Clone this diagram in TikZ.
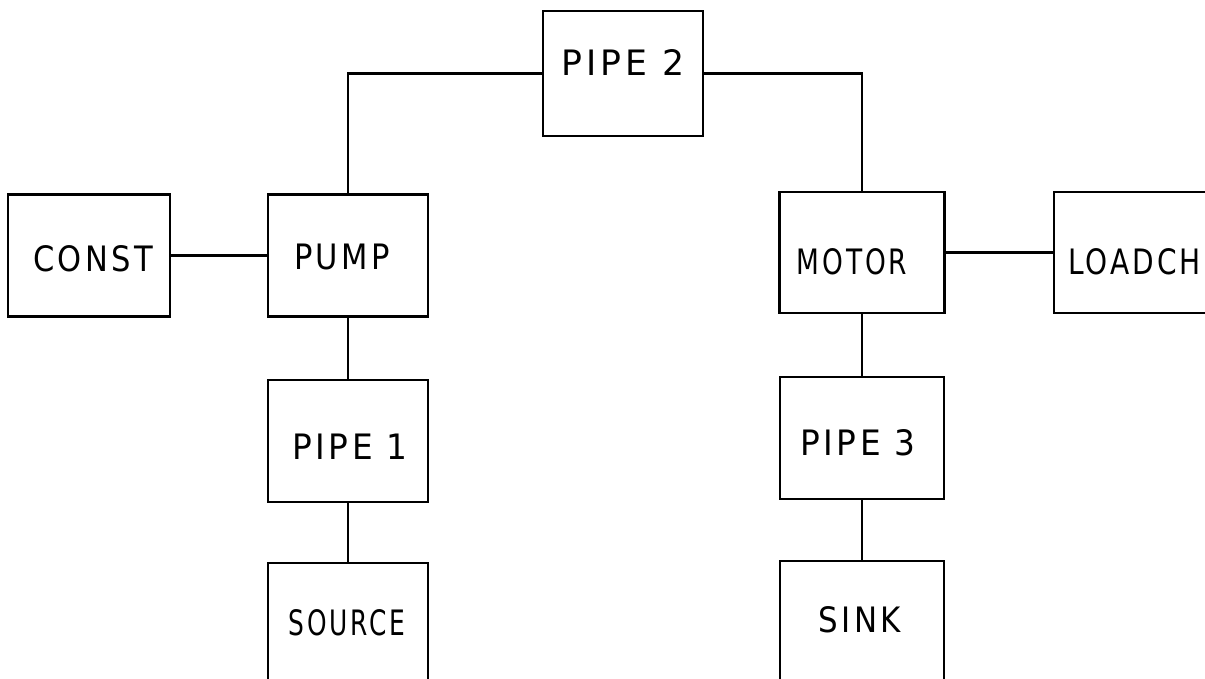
\documentclass[tikz,border=0pt]{standalone}
\usepackage{fontspec}
\usetikzlibrary{calc}
\newfontfamily\din[LetterSpace=10]{DejaVu Sans Condensed}
\newcommand\sx[2]{\scalebox{#1}[1]{#2}}
\begin{document}
\begin{tikzpicture}[x=1pt,y=-1pt,
  blk/.style={draw,line width=2.4pt,rectangle,minimum width=#1,minimum height=122pt,inner sep=0pt},
  blk/.default=160pt,
  lbl/.style={inner sep=0pt,font=\din\fontsize{35}{35}\selectfont},
  wire/.style={line width=2.4pt}]
\useasboundingbox (0,0) rectangle (1205,679);
\clip (0,0) rectangle (1205,679);
\node[blk=162pt] (const) at (89,255.5) {};
\node[blk] (pump) at (348,255.5) {};
\node[blk, minimum height=125pt] (pipe2) at (623,73.5) {};
\node[blk=165pt, minimum height=121pt] (motor) at (862,252.5) {};
\node[blk=165pt, minimum height=121pt] (loadch) at (1136.5,252.5) {};
\node[blk] (pipe1) at (348,441) {};
\node[blk] (source) at (348,624) {};
\node[blk=164pt] (pipe3) at (862,438) {};
\node[blk=164pt] (sink) at (862,622) {};
\node[lbl] (constt) at ($(const.center)+(4,3.5)$) {\sx{0.97}{CONST}};
\node[lbl] (pumpt) at ($(pump.center)+(-6,1.5)$) {\sx{0.97}{PUMP}};
\node[lbl] (pipe2t) at ($(pipe2.center)+(0,-10.5)$) {\sx{1.1}{PIPE 2}};
\node[lbl] (motort) at ($(motor.center)+(-10,9.5)$) {\sx{0.84}{MOTOR}};
\node[lbl, anchor=west] (loadcht) at ($(loadch.west)+(15,9.5)$) {\sx{0.89}{LOADCH}};
\node[lbl] (pipe1t) at ($(pipe1.center)+(2,6)$) {\sx{1.04}{PIPE 1}};
\node[lbl] (sourcet) at ($(source.center)+(-1,-1)$) {\sx{0.79}{SOURCE}};
\node[lbl] (pipe3t) at ($(pipe3.center)+(-4,5)$) {\sx{1.04}{PIPE 3}};
\node[lbl] (sinkt) at ($(sink.center)+(-2,-2)$) {\sx{0.98}{SINK}};
\draw[wire] (const.east) -- (pump.west);
\draw[wire] (pump.north) |- (pipe2.west);
\draw[wire] (pipe2.east) -| (motor.north);
\draw[wire] (motor.east) -- (loadch.west);
\draw[wire] (pump.south) -- (pipe1.north);
\draw[wire] (pipe1.south) -- (source.north);
\draw[wire] (motor.south) -- (pipe3.north);
\draw[wire] (pipe3.south) -- (sink.north);
\end{tikzpicture}
\end{document}
